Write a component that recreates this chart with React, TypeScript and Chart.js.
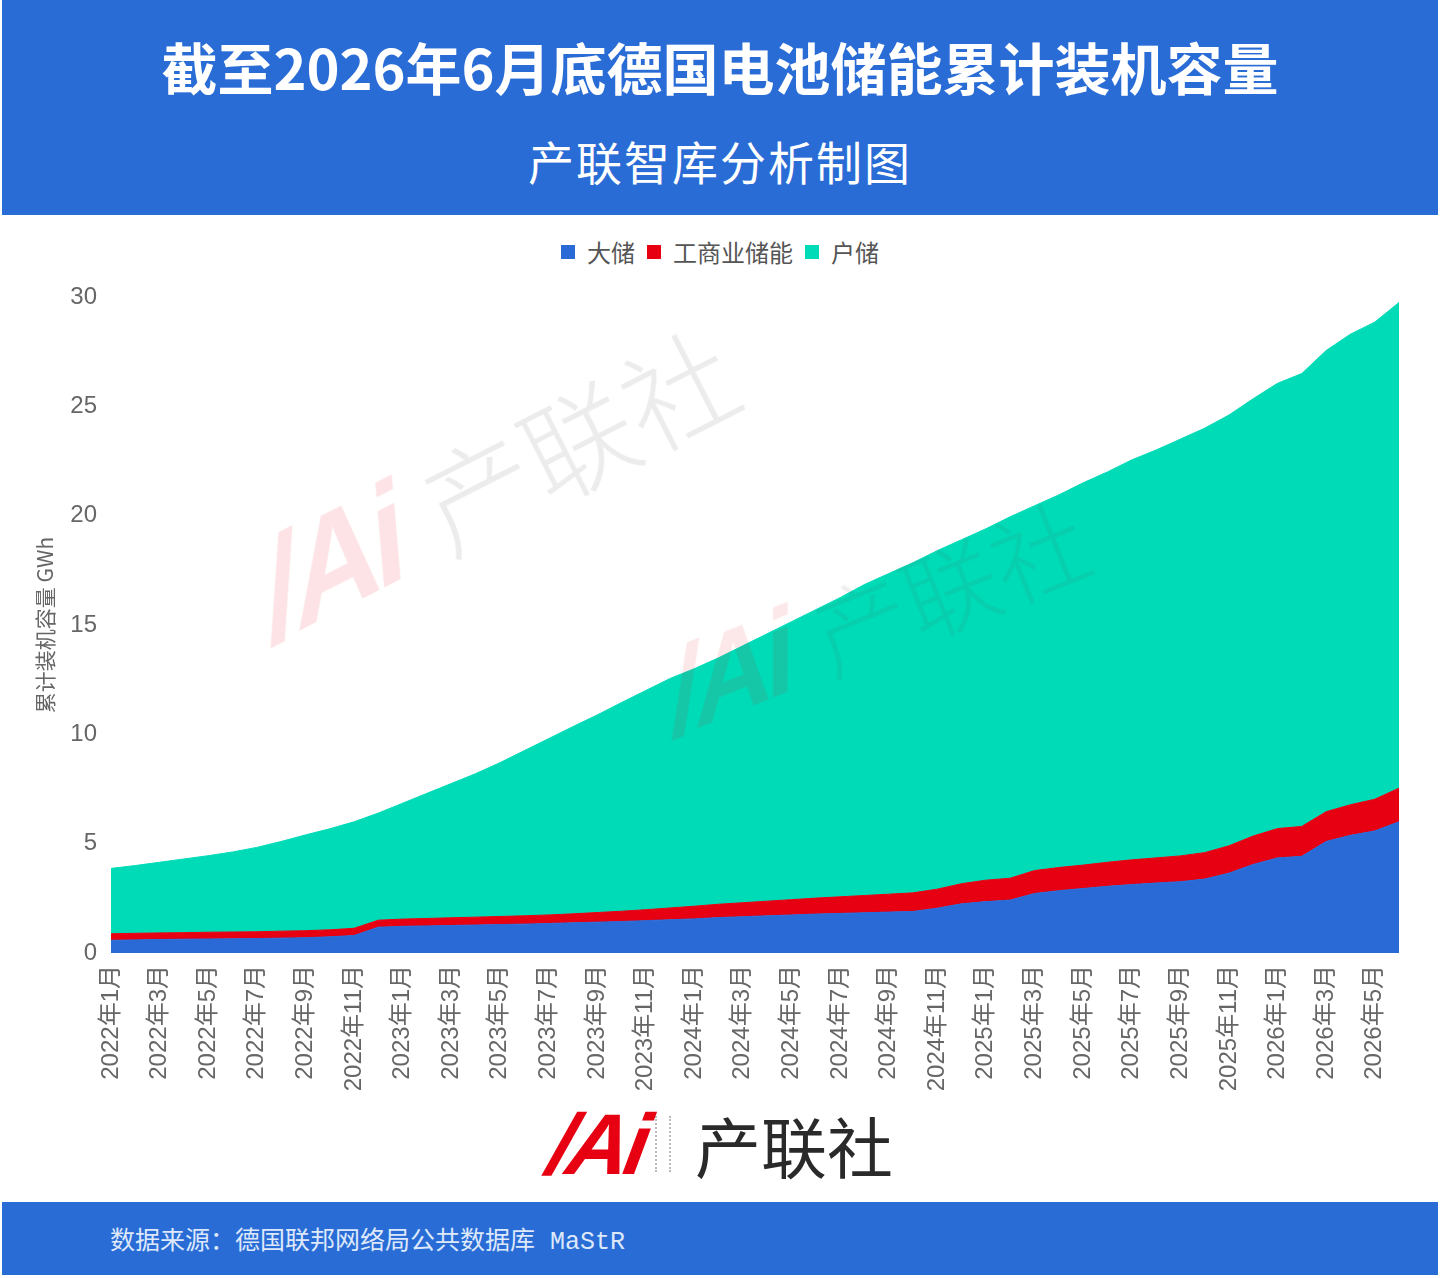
import React, { useEffect, useRef } from "react";
import { Chart, registerables } from "chart.js";

Chart.register(...registerables);

const months: string[] = [
  "2022年1月", "2022年2月", "2022年3月", "2022年4月", "2022年5月", "2022年6月",
  "2022年7月", "2022年8月", "2022年9月", "2022年10月", "2022年11月", "2022年12月",
  "2023年1月", "2023年2月", "2023年3月", "2023年4月", "2023年5月", "2023年6月",
  "2023年7月", "2023年8月", "2023年9月", "2023年10月", "2023年11月", "2023年12月",
  "2024年1月", "2024年2月", "2024年3月", "2024年4月", "2024年5月", "2024年6月",
  "2024年7月", "2024年8月", "2024年9月", "2024年10月", "2024年11月", "2024年12月",
  "2025年1月", "2025年2月", "2025年3月", "2025年4月", "2025年5月", "2025年6月",
  "2025年7月", "2025年8月", "2025年9月", "2025年10月", "2025年11月", "2025年12月",
  "2026年1月", "2026年2月", "2026年3月", "2026年4月", "2026年5月", "2026年6月",
];

// 大储 (GWh)
const largeScale: number[] = [
  0.58, 0.6, 0.62, 0.63, 0.64, 0.65, 0.66, 0.68, 0.7, 0.74, 0.8, 1.18,
  1.22, 1.24, 1.26, 1.28, 1.3, 1.32, 1.35, 1.38, 1.41, 1.44, 1.48, 1.52,
  1.56, 1.62, 1.66, 1.7, 1.74, 1.78, 1.81, 1.84, 1.87, 1.9, 2.05, 2.25,
  2.35, 2.42, 2.72, 2.85, 2.95, 3.05, 3.13, 3.2, 3.26, 3.38, 3.65, 4.05,
  4.35, 4.42, 5.1, 5.38, 5.58, 6.0,
];

// 工商业储能 (GWh)
const commercial: number[] = [
  0.3, 0.3, 0.3, 0.3, 0.31, 0.31, 0.31, 0.32, 0.32, 0.32, 0.33, 0.32,
  0.33, 0.34, 0.35, 0.36, 0.37, 0.38, 0.39, 0.41, 0.44, 0.47, 0.5, 0.54,
  0.58, 0.61, 0.64, 0.67, 0.7, 0.73, 0.76, 0.79, 0.82, 0.85, 0.87, 0.92,
  0.98, 1.0, 1.05, 1.06, 1.07, 1.1, 1.13, 1.15, 1.18, 1.21, 1.25, 1.3,
  1.34, 1.37, 1.36, 1.4, 1.45, 1.54,
];

// 户储 (GWh)
const residential: number[] = [
  2.99, 3.1, 3.23, 3.37, 3.5, 3.66, 3.86, 4.1, 4.38, 4.62, 4.87, 4.9,
  5.3, 5.72, 6.14, 6.56, 7.03, 7.55, 8.06, 8.56, 9.03, 9.54, 10.02, 10.49,
  10.86, 11.27, 11.75, 12.23, 12.71, 13.19, 13.68, 14.22, 14.66, 15.1, 15.48, 15.73,
  16.07, 16.53, 16.68, 17.04, 17.48, 17.85, 18.29, 18.65, 19.06, 19.41, 19.7, 20.0,
  20.36, 20.71, 21.09, 21.52, 21.82, 22.21,
];

const seriesNames: string[] = ["大储", "工商业储能", "户储"];
const seriesColors: string[] = ["#2a6ad6", "#e60012", "#00dbb7"];

const TICK_FONT = "'Liberation Sans Narrow', 'Liberation Sans', 'Noto Sans CJK SC', sans-serif";
const CJK_FONT = "'Noto Sans CJK SC', 'Noto Sans', sans-serif";
const BAND_BLUE = "#2a6cd6";

function Logo({ size, color, textColor }: { size: number; color: string; textColor: string }) {
  return (
    <div style={{ display: "flex", alignItems: "center", whiteSpace: "nowrap" }}>
      <span
        style={{
          fontFamily: "'Liberation Sans', sans-serif",
          fontWeight: 900,
          fontStyle: "italic",
          fontSize: size * 1.2,
          color,
          letterSpacing: -size * 0.06,
          lineHeight: 1,
          transform: "skewX(-12deg)",
          display: "inline-block",
        }}
      >
        /Ai
      </span>
      <span
        style={{
          fontFamily: CJK_FONT,
          fontSize: size,
          color: textColor,
          marginLeft: size * 0.3,
          lineHeight: 1,
          fontWeight: 300,
        }}
      >
        产联社
      </span>
    </div>
  );
}

export default function App() {
  const canvasRef = useRef<HTMLCanvasElement | null>(null);

  useEffect(() => {
    if (!canvasRef.current) return;
    const datasets = [largeScale, commercial, residential].map((d, i) => ({
      label: seriesNames[i],
      data: d,
      backgroundColor: seriesColors[i],
      borderColor: seriesColors[i],
      borderWidth: 1,
      fill: i === 0 ? "origin" : "-1",
      pointRadius: 0,
      tension: 0,
    }));
    const chart = new Chart(canvasRef.current, {
      type: "line",
      data: { labels: months, datasets: datasets as any },
      options: {
        animation: false,
        responsive: false,
        layout: { padding: { top: 72, right: 41, bottom: 0, left: 0 } },
        plugins: {
          legend: { display: false },
          tooltip: { enabled: false },
        },
        scales: {
          x: {
            grid: { display: false, drawTicks: false },
            border: { display: false },
            ticks: {
              autoSkip: false,
              minRotation: 90,
              maxRotation: 90,
              padding: 12,
              color: "#666",
              font: { family: TICK_FONT, size: 24 },
              callback: (_v: any, i: number) => (i % 2 === 0 ? months[i] : ""),
            },
            afterFit: (s: any) => {
              s.height = 152;
            },
          },
          y: {
            stacked: true,
            min: 0,
            max: 30,
            grid: { display: false, drawTicks: false },
            border: { display: false },
            ticks: {
              stepSize: 5,
              padding: 14,
              color: "#666",
              font: { family: TICK_FONT, size: 24 },
            },
            title: {
              display: true,
              text: "累计装机容量 GWh",
              color: "#666",
              font: { family: CJK_FONT, size: 21 },
              padding: { top: 32, bottom: 0 },
            },
            afterFit: (s: any) => {
              s.width = 111;
            },
          },
        },
      },
    });
    return () => chart.destroy();
  }, []);

  return (
    <div
      style={{
        position: "absolute",
        top: 0,
        left: 0,
        width: 1440,
        height: 1278,
        background: "#fff",
        overflow: "hidden",
        fontFamily: CJK_FONT,
      }}
    >
      {/* header band */}
      <div
        style={{
          position: "absolute",
          top: 0,
          left: 2,
          width: 1436,
          height: 215,
          background: BAND_BLUE,
        }}
      />
      <div
        style={{
          position: "absolute",
          top: 27,
          left: 0,
          width: 1440,
          textAlign: "center",
          color: "#fff",
          fontWeight: 700,
          fontSize: 56,
          lineHeight: "78px",
        }}
      >
        截至2026年6月底德国电池储能累计装机容量
      </div>
      <div
        style={{
          position: "absolute",
          top: 128,
          left: 0,
          width: 1440,
          textAlign: "center",
          color: "#fff",
          fontWeight: 400,
          fontSize: 46,
          lineHeight: "64px",
          letterSpacing: 2,
        }}
      >
        产联智库分析制图
      </div>

      {/* legend */}
      <div
        style={{
          position: "absolute",
          top: 236,
          left: 0,
          width: 1440,
          height: 32,
          display: "flex",
          justifyContent: "center",
          alignItems: "center",
          color: "#555",
          fontSize: 24,
        }}
      >
        {seriesNames.map((n, i) => (
          <div key={n} style={{ display: "flex", alignItems: "center", marginRight: i < 2 ? 12 : 0 }}>
            <span
              style={{
                display: "inline-block",
                width: 14,
                height: 14,
                background: seriesColors[i],
                marginRight: 12,
              }}
            />
            <span style={{ lineHeight: "32px" }}>{n}</span>
          </div>
        ))}
      </div>

      {/* chart */}
      <canvas
        ref={canvasRef}
        width={1440}
        height={880}
        style={{ position: "absolute", top: 225, left: 0, width: 1440, height: 880, display: "block" }}
      />

      {/* watermarks */}
      <div
        style={{
          position: "absolute",
          left: 262,
          top: 530,
          transform: "rotate(-27deg)",
          transformOrigin: "left center",
          opacity: 0.11,
          pointerEvents: "none",
        }}
      >
        <Logo size={112} color="#e60012" textColor="#555" />
      </div>
      <div
        style={{
          position: "absolute",
          left: 668,
          top: 640,
          transform: "rotate(-22deg)",
          transformOrigin: "left center",
          opacity: 0.09,
          pointerEvents: "none",
        }}
      >
        <Logo size={96} color="#e60012" textColor="#555" />
      </div>

      {/* bottom logo */}
      <div style={{ position: "absolute", left: 550, top: 1108 }}>
        <div style={{ display: "flex", alignItems: "center" }}>
          <span
            style={{
              fontFamily: "'Liberation Sans', sans-serif",
              fontWeight: 900,
              fontStyle: "italic",
              fontSize: 86,
              color: "#e60012",
              letterSpacing: -5,
              lineHeight: "72px",
              display: "inline-block",
              transform: "skewX(-10deg)",
            }}
          >
            /Ai
          </span>
          <span
            style={{
              display: "inline-block",
              width: 12,
              height: 56,
              marginLeft: 10,
              borderLeft: "2px dotted #bbb",
              borderRight: "2px dotted #bbb",
            }}
          />
          <span
            style={{
              fontSize: 66,
              color: "#2a2a2a",
              marginLeft: 24,
              lineHeight: "72px",
              fontWeight: 400,
            }}
          >
            产联社
          </span>
        </div>
      </div>

      {/* footer band */}
      <div
        style={{
          position: "absolute",
          top: 1202,
          left: 2,
          width: 1436,
          height: 73,
          background: BAND_BLUE,
        }}
      />
      <div
        style={{
          position: "absolute",
          top: 1206,
          left: 110,
          height: 73,
          lineHeight: "73px",
          color: "#dde8fb",
          fontSize: 25,
          fontFamily: "'Liberation Mono', 'Noto Sans CJK SC', monospace",
          whiteSpace: "nowrap",
        }}
      >
        数据来源：德国联邦网络局公共数据库 MaStR
      </div>
    </div>
  );
}
